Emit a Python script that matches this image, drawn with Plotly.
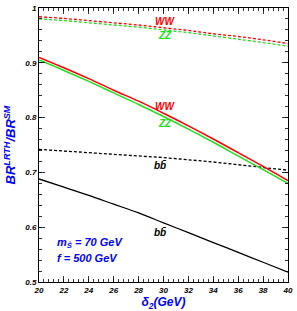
import plotly.graph_objects as go

delta2 = [20, 22, 24, 26, 28, 30, 32, 34, 36, 38, 40]
ww_solid = [0.910, 0.891, 0.871, 0.850, 0.830, 0.808, 0.785, 0.761, 0.736, 0.711, 0.685]
zz_solid = [0.905, 0.886, 0.866, 0.845, 0.824, 0.802, 0.779, 0.755, 0.730, 0.705, 0.680]
ww_dash = [0.984, 0.981, 0.977, 0.973, 0.969, 0.964, 0.959, 0.953, 0.948, 0.942, 0.935]
zz_dash = [0.980, 0.977, 0.973, 0.969, 0.965, 0.960, 0.955, 0.949, 0.943, 0.937, 0.930]
bb_dash = [0.742, 0.739, 0.736, 0.733, 0.730, 0.727, 0.723, 0.719, 0.714, 0.709, 0.704]
bb_solid = [0.688, 0.673, 0.658, 0.642, 0.626, 0.608, 0.590, 0.572, 0.554, 0.536, 0.518]

fig = go.Figure()
fig.add_trace(go.Scatter(x=delta2, y=bb_solid, mode="lines", line=dict(color="black", width=1.3, shape="spline")))
fig.add_trace(go.Scatter(x=delta2, y=bb_dash, mode="lines", line=dict(color="black", width=1.3, dash="3px,2px", shape="spline")))
fig.add_trace(go.Scatter(x=delta2, y=zz_dash, mode="lines", line=dict(color="#22dd22", width=1.3, dash="3px,2px", shape="spline")))
fig.add_trace(go.Scatter(x=delta2, y=ww_dash, mode="lines", line=dict(color="red", width=1.3, dash="3px,2px", shape="spline")))
fig.add_trace(go.Scatter(x=delta2, y=zz_solid, mode="lines", line=dict(color="#22dd22", width=1.5, shape="spline")))
fig.add_trace(go.Scatter(x=delta2, y=ww_solid, mode="lines", line=dict(color="red", width=1.5, shape="spline")))

lab_font = dict(family="Liberation Sans", size=10, weight="bold", style="italic")
anns = [
    (30.1, 0.976, "WW", "red"),
    (30.1, 0.950, "ZZ", "#22dd22"),
    (30.1, 0.820, "WW", "red"),
    (30.1, 0.790, "ZZ", "#22dd22"),
    (29.7, 0.713, "bb\u0304", "black"),
    (29.7, 0.590, "bb\u0304", "black"),
]
for x, y, t, c in anns:
    fig.add_annotation(x=x, y=y, text=t, showarrow=False, font=dict(lab_font, color=c))

fig.add_annotation(x=24.1, y=0.571, text="m<sub>Ŝ</sub> = 70 GeV", showarrow=False,
                   font=dict(family="Liberation Sans", size=11, weight="bold", style="italic", color="blue"))
fig.add_annotation(x=23.9, y=0.543, text="f = 500 GeV", showarrow=False,
                   font=dict(family="Liberation Sans", size=11, weight="bold", style="italic", color="blue"))

tickfont = dict(family="Liberation Sans", size=8, weight="bold", style="italic", color="black")
fig.update_xaxes(range=[20, 40], tickvals=list(range(20, 41, 2)),
                 ticks="inside", ticklen=6, tickwidth=0.8, tickcolor="black",
                 minor=dict(dtick=0.4, ticks="inside", ticklen=3, tickcolor="black", tickwidth=0.8),
                 showline=True, linecolor="black", linewidth=1, mirror="ticks",
                 showgrid=False, zeroline=False, tickfont=tickfont,
                 title=dict(text="δ<sub>2</sub>(GeV)", standoff=4,
                            font=dict(family="Liberation Sans", size=12, weight="bold", style="italic", color="blue")))
fig.update_yaxes(range=[0.5, 1.0], tickvals=[0.5, 0.6, 0.7, 0.8, 0.9, 1.0],
                 ticktext=["0.5", "0.6", "0.7", "0.8", "0.9", "1"],
                 ticks="inside", ticklen=6, tickwidth=0.8, tickcolor="black",
                 minor=dict(dtick=0.02, ticks="inside", ticklen=3, tickcolor="black", tickwidth=0.8),
                 showline=True, linecolor="black", linewidth=1, mirror="ticks",
                 showgrid=False, zeroline=False, tickfont=tickfont,
                 title=dict(text="BR<sup>LRTH</sup>/BR<sup>SM</sup>", standoff=6,
                            font=dict(family="Liberation Sans", size=13, weight="bold", style="italic", color="blue")))

fig.update_layout(width=297, height=311, showlegend=False,
                  margin=dict(l=39, r=8, t=4, b=25),
                  plot_bgcolor="white", paper_bgcolor="white")
fig.write_html("out.html", config={"displayModeBar": False, "staticPlot": True})

with open("out.html", "r", encoding="utf-8") as fh:
    html = fh.read()
html = html.replace("<head>", "<head><style>html,body{margin:0;padding:0;overflow:hidden}</style>", 1)
with open("out.html", "w", encoding="utf-8") as fh:
    fh.write(html)
